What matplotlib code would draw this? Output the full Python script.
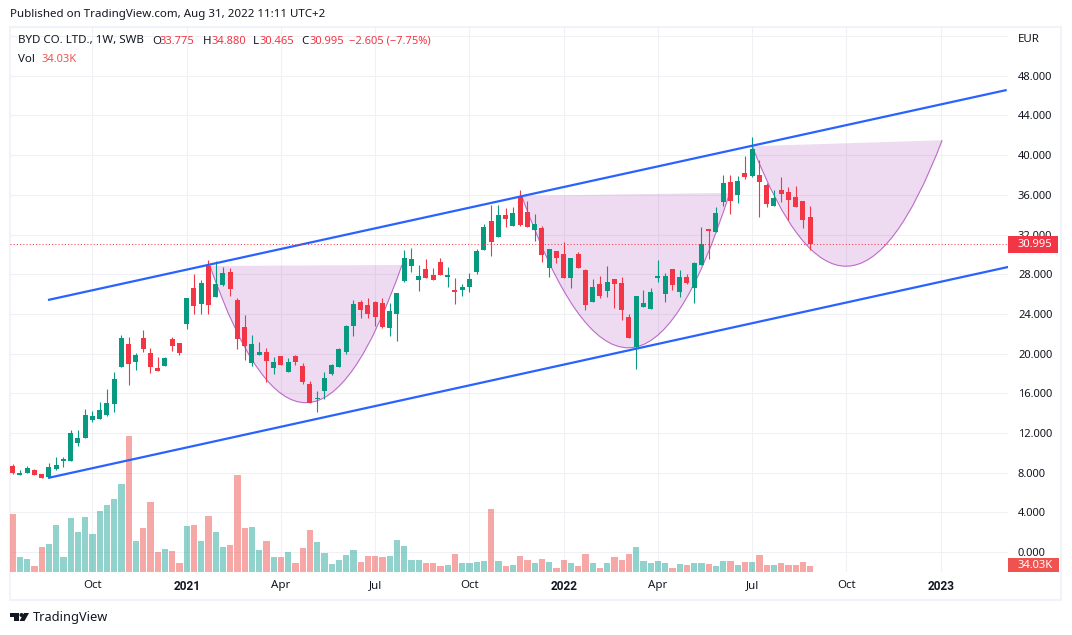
import matplotlib
matplotlib.use("Agg")
import matplotlib.pyplot as plt
from matplotlib.patches import PathPatch, Polygon, Circle, Rectangle
from matplotlib.path import Path
from matplotlib.transforms import Affine2D

plt.rcParams["font.family"] = ["Noto Sans", "DejaVu Sans"]

# weekly candles
opens = [8.67, 7.76, 8.0, 8.26, 7.86, 7.56, 8.37, 9.17, 9.17, 11.0, 11.5, 13.3, 13.4, 13.8, 14.9, 18.65,
         21.0, 19.15, 21.6, 20.05, 18.55, 18.75, 21.5, 21.1, 23.0, 26.6, 25.0, 28.8, 25.7, 26.9, 28.2, 25.4,
         22.7, 19.05, 19.86, 20.16, 18.55, 19.76, 18.15, 19.76, 18.75, 16.94, 15.4, 16.2, 17.95, 18.65, 20.16, 22.78,
         25.2, 24.9, 25.2, 25.1, 22.6, 24.0, 27.3, 28.8, 27.4, 28.5, 27.9, 29.2, 27.7, 26.4, 26.4, 26.7,
         28.2, 30.4, 33.4, 31.75, 33.97, 32.86, 35.89, 34.27, 32.46, 32.66, 28.63, 30.34, 30.04, 27.62, 30.04, 28.43,
         25.2, 27.0, 26.3, 27.5, 27.1, 23.7, 20.67, 24.7, 24.5, 27.6, 26.0, 28.5, 26.2, 27.7, 26.6, 28.9,
         32.56, 32.26, 35.28, 37.3, 36.0, 38.2, 37.9, 38.0, 37.0, 34.9, 36.5, 36.3, 35.8, 35.4, 33.775]
highs = [8.87, 8.26, 8.67, 8.36, 7.86, 8.97, 9.57, 9.57, 12.3, 12.3, 14.4, 14.2, 15.1, 16.4, 18.1, 21.9,
         21.7, 20.05, 22.4, 20.55, 19.65, 19.65, 21.7, 21.1, 25.6, 28.0, 27.4, 29.4, 29.3, 28.7, 28.6, 25.6,
         23.9, 21.9, 21.17, 20.56, 19.66, 19.76, 19.56, 19.86, 19.05, 17.24, 16.2, 18.1, 18.95, 20.56, 22.88, 25.4,
         25.4, 25.6, 25.3, 25.6, 25.1, 26.1, 30.4, 30.6, 28.9, 29.5, 28.6, 29.6, 28.7, 27.6, 27.0, 28.1,
         30.5, 33.1, 35.0, 34.98, 34.68, 34.78, 36.49, 35.38, 34.07, 32.86, 30.54, 30.34, 31.25, 29.64, 30.24, 28.53,
         27.5, 27.8, 28.8, 27.5, 27.7, 24.0, 25.8, 26.4, 26.6, 29.4, 28.1, 28.5, 28.4, 28.0, 29.2, 32.76,
         32.56, 34.78, 38.0, 38.0, 37.9, 39.9, 41.8, 39.5, 37.2, 36.5, 37.8, 36.8, 36.9, 35.4, 34.88]
lows = [7.86, 7.76, 8.0, 7.76, 7.49, 7.56, 8.27, 8.57, 9.17, 10.7, 11.5, 13.1, 13.4, 13.7, 14.1, 18.65,
        16.8, 18.35, 20.2, 18.05, 18.25, 18.75, 20.25, 19.85, 22.5, 24.0, 24.0, 24.0, 25.7, 26.8, 25.8, 20.5,
        19.35, 18.75, 19.86, 17.14, 17.94, 18.85, 18.15, 18.85, 16.94, 15.02, 14.1, 15.4, 17.84, 18.65, 19.96, 21.77,
        23.6, 23.6, 22.8, 22.6, 21.8, 21.3, 27.2, 28.2, 26.3, 27.6, 27.4, 27.9, 26.7, 25.0, 25.8, 26.2,
        28.0, 30.4, 29.84, 31.75, 32.76, 32.86, 32.86, 32.76, 31.35, 29.23, 27.72, 29.13, 27.62, 26.61, 28.63, 24.4,
        25.2, 25.6, 25.7, 24.6, 23.4, 21.6, 18.45, 24.7, 24.5, 27.2, 25.2, 26.4, 25.7, 27.0, 25.1, 28.9,
        29.5, 32.26, 34.9, 34.07, 35.2, 37.6, 37.8, 33.8, 34.8, 34.9, 35.3, 33.5, 34.8, 32.7, 30.465]
closes = [7.99, 7.96, 8.47, 7.8, 7.49, 8.57, 8.77, 9.37, 12.0, 11.5, 13.8, 13.7, 14.3, 15.0, 17.4, 21.6,
          18.95, 19.85, 20.5, 18.65, 18.25, 19.55, 20.75, 20.05, 25.6, 24.8, 27.1, 24.9, 27.0, 28.1, 26.5, 21.5,
          20.8, 21.0, 20.16, 19.25, 19.15, 18.85, 19.15, 19.15, 17.14, 15.02, 15.5, 17.5, 18.85, 20.46, 22.78, 25.0,
          24.4, 24.0, 23.7, 22.7, 24.3, 26.1, 29.6, 29.5, 27.8, 27.6, 27.4, 27.9, 27.9, 26.2, 26.7, 27.5,
          30.3, 32.8, 31.25, 33.97, 33.57, 34.17, 32.96, 32.76, 33.06, 29.94, 30.54, 29.64, 27.62, 29.64, 28.63, 24.9,
          26.7, 25.8, 27.2, 27.0, 24.4, 21.6, 25.8, 25.1, 26.2, 27.8, 27.8, 26.9, 27.7, 27.1, 29.1, 31.05,
          32.36, 34.17, 37.2, 35.4, 37.4, 37.8, 40.6, 37.3, 35.1, 35.7, 36.1, 35.5, 34.8, 33.5, 30.995]
# volume in thousands
volumes = [329, 85, 74, 34, 142, 159, 266, 85, 306, 227, 312, 215, 346, 380, 414, 499,
           771, 176, 249, 397, 113, 130, 119, 51, 261, 266, 176, 318, 227, 142, 153, 550,
           249, 255, 125, 176, 85, 85, 113, 51, 136, 238, 170, 108, 45, 68, 96, 125,
           57, 91, 91, 85, 91, 181, 147, 68, 68, 51, 51, 34, 40, 102, 51, 51,
           57, 62, 357, 62, 34, 40, 91, 68, 51, 74, 57, 23, 68, 51, 34, 102,
           51, 23, 51, 85, 68, 102, 142, 62, 51, 62, 51, 23, 45, 40, 51, 51,
           45, 34, 62, 62, 40, 57, 57, 96, 40, 40, 51, 40, 40, 57, 34.03]

price_labels = [0, 4, 8, 12, 16, 20, 24, 28, 32, 36, 40, 44, 48]
grid_prices = price_labels + [52]
time_ticks = [11, 24, 37, 50, 63, 76, 89, 102, 115, 128]
time_labels = ["Oct", "2021", "Apr", "Jul", "Oct", "2022", "Apr", "Jul", "Oct", "2023"]

# channel lines and cup curves: (week index, price)
channel_upper = ([4.87, 137.1], [25.4, 46.57])
channel_lower = ([4.87, 137.3], [7.46, 28.73])
cups = [
    [(27.2, 28.83), (40.45, 1.2), (53.7, 28.93)],
    [(70.2, 35.9), (85.4, 5.1), (98.9, 36.2)],
    [(102.0, 40.9), (115.1, 16.4), (128.2, 41.5)],
]

GREEN = "#089981"
RED = "#f23645"
W, H = 1072, 635
TEXT = "#131722"
GRID = "#f0f1f4"
SIZE = 8.3
NUM_SIZE = 8.0

fig = plt.figure(figsize=(W / 100, H / 100), dpi=100)
px = Affine2D().scale(1 / W, -1 / H).translate(0, 1) + fig.transFigure


def label(x, y, s, color=TEXT, size=SIZE, **kw):
    fig.text(x / W, 1 - y / H, s, color=color, fontsize=size, va="center", **kw)


rect = [10 / W, (H - 572) / H, 998 / W, 546 / H]
xlim = (-0.37, 137.28)
ylim = (-2.02, 53.02)

ax_grid = fig.add_axes(rect, zorder=1)
ax_vol = fig.add_axes(rect, zorder=2)
ax = fig.add_axes(rect, zorder=3)
for a in (ax_grid, ax_vol, ax):
    a.set_xlim(xlim)
    for s in a.spines.values():
        s.set_visible(False)
    a.patch.set_visible(False)
ax_grid.set_ylim(ylim)
ax.set_ylim(ylim)
ax_vol.set_ylim(0, 546 * 5.67)
ax_vol.set_xticks([])
ax_vol.set_yticks([])

ax_grid.set_xticks(time_ticks)
ax_grid.set_yticks(grid_prices)
ax_grid.tick_params(length=0, labelbottom=False, labelleft=False)
ax_grid.grid(True, color=GRID, lw=0.8)

idx = list(range(len(closes)))
up = [c >= o for o, c in zip(opens, closes)]

ax_vol.bar(idx, volumes, width=0.87, color=["#26a69a" if u else "#ef5350" for u in up], alpha=0.5, lw=0)

# cups sit under the candles, channel lines over them
for start, ctrl, end in cups:
    ax.add_patch(PathPatch(Path([start, ctrl, end, start], [Path.MOVETO, Path.CURVE3, Path.CURVE3, Path.CLOSEPOLY]),
                           facecolor="#9c27b0", alpha=0.17, lw=0, zorder=1))
    ax.add_patch(PathPatch(Path([start, ctrl, end], [Path.MOVETO, Path.CURVE3, Path.CURVE3]),
                           fill=False, edgecolor="#9c27b0", alpha=0.65, lw=0.8, zorder=1.5))

colors = [GREEN if u else RED for u in up]
ax.vlines(idx, lows, highs, colors=colors, lw=0.8, zorder=2)
ax.bar(idx, [abs(c - o) for o, c in zip(opens, closes)], bottom=[min(o, c) for o, c in zip(opens, closes)],
       width=0.68, color=colors, lw=0, zorder=3)

ax.plot(*channel_upper, color="#2962ff", lw=1.6, zorder=6, solid_capstyle="butt")
ax.plot(*channel_lower, color="#2962ff", lw=1.6, zorder=6, solid_capstyle="butt")
ax.axhline(closes[-1], color=RED, lw=0.72, ls=(0, (1, 2.2)), zorder=6)

ax.set_xticks(time_ticks)
ax.set_xticklabels(time_labels, color=TEXT, fontsize=SIZE)
for tl, name in zip(ax.get_xticklabels(), time_labels):
    if name.isdigit():
        # Noto Sans has no bold face here
        tl.set_family("Roboto")
        tl.set_fontweight("bold")
        tl.set_fontsize(8.6)
ax.yaxis.tick_right()
ax.set_yticks(price_labels)
ax.set_yticklabels([f"{v:.3f}" for v in price_labels], color=TEXT, fontsize=NUM_SIZE)
ax.tick_params(length=0)
ax.tick_params(axis="x", pad=5.5)
ax.tick_params(axis="y", pad=7.2)

# price scale tags
ty = ax.get_yaxis_transform()
ax.add_patch(Rectangle((1.0, closes[-1] - 0.9), 50 / 998, 1.8, transform=ty, facecolor=RED, lw=0, clip_on=False, zorder=7))
ax.text(1 + 10 / 998, closes[-1], f"{closes[-1]:.3f}", transform=ty, color="white", fontsize=NUM_SIZE,
        va="center", ha="left", clip_on=False, zorder=8)
fig.add_artist(Rectangle((1008, 558), 51, 14, transform=px, facecolor="#ef5350", lw=0, zorder=7))
label(1018, 565, f"{volumes[-1]:.2f}K", color="white", size=NUM_SIZE, zorder=8)
label(1018, 40, "EUR")

# outer frame
fig.add_artist(Rectangle((10, 26.5), 1051, 573.5, transform=px, fill=False, edgecolor="#f0f3fa", lw=1.5, zorder=0))

# header
label(10, 15, "Published on TradingView.com, Aug 31, 2022 11:11 UTC+2")
label(18, 41, "BYD CO. LTD., 1W, SWB")
for x, name, x_val, val in [(152, "O", 160, "33.775"), (203, "H", 211, "34.880"),
                            (253, "L", 260, "30.465"), (301, "C", 309, "30.995")]:
    label(x, 41, name)
    label(x_val, 41, val, color=RED, size=NUM_SIZE)
label(349, 41, "−2.605 (−7.75%)", color=RED, size=NUM_SIZE)
label(18, 59, "Vol")
label(42, 59, "34.03K", color="#ef5350", size=NUM_SIZE)

# footer logo
logo = "#131722"
fig.add_artist(Polygon([(10, 613), (19, 613), (19, 621), (14, 621), (14, 617), (10, 617)], transform=px, facecolor=logo, lw=0))
fig.add_artist(Circle((21.5, 615), 2, transform=px, facecolor=logo, lw=0))
fig.add_artist(Polygon([(24, 613), (29, 613), (24.5, 621), (19.5, 621)], transform=px, facecolor=logo, lw=0))
label(33, 618, "TradingView", size=9.2)

fig.savefig("out.png", dpi=100)
plt.close(fig)
